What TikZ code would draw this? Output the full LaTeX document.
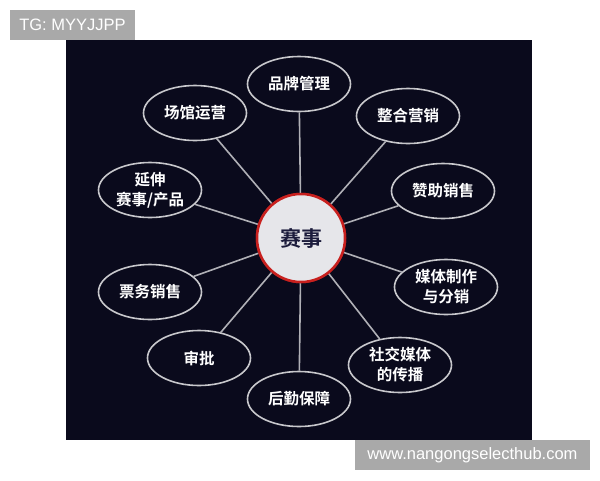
\documentclass[tikz,border=0pt]{standalone}
\usepackage{fontspec}
\setmainfont{Liberation Sans}
\newfontfamily\cjk{Noto Sans CJK SC}[BoldFont={Noto Sans CJK SC Bold}]
\usetikzlibrary{shapes.geometric}
\definecolor{bgdark}{HTML}{0A0A1C}
\definecolor{ringgray}{HTML}{C8C8CC}
\definecolor{linegray}{HTML}{B0B0B6}
\definecolor{tagbg}{HTML}{A9A9A9}
\definecolor{hubred}{HTML}{C8201E}
\definecolor{hubfill}{HTML}{E6E6EA}
\definecolor{hubtext}{HTML}{1C1C3C}
\tikzset{
  leaf/.style={ellipse, draw=ringgray, line width=1.6pt, fill=bgdark, text=white,
    minimum width=103pt, minimum height=55pt, inner sep=0pt, align=center,
    font=\cjk\bfseries\fontsize{15.5}{20}\selectfont},
  spoke/.style={draw=linegray, line width=1.6pt},
  hub/.style={circle, draw=hubred, line width=2.5pt, fill=hubfill, minimum size=88pt,
    inner sep=0pt, text=hubtext, font=\cjk\bfseries\fontsize{21}{24}\selectfont},
  tag/.style={fill=tagbg, text=white, inner sep=0pt, font=\fontsize{16.5}{18}\selectfont}
}
\begin{document}
\begin{tikzpicture}[x=1pt,y=-1pt]
\useasboundingbox (0,0) rectangle (600,480);
\fill[white] (0,0) rectangle (600,480);
\fill[bgdark] (66,40) rectangle (532,440);
\node[hub] (c) at (301,238) {};
\node[leaf] (e1) at (299,84) {品牌管理};
\node[leaf] (e2) at (408,116) {整合营销};
\node[leaf] (e3) at (443,191) {赞助销售};
\node[leaf] (e4) at (446,287) {媒体制作\\与分销};
\node[leaf] (e5) at (400,365) {社交媒体\\的传播};
\node[leaf] (e6) at (299,399) {后勤保障};
\node[leaf] (e7) at (199,358) {审批};
\node[leaf] (e8) at (150,292) {票务销售};
\node[leaf] (e9) at (150,190) {延伸\\赛事/产品};
\node[leaf] (e10) at (195,113) {场馆运营};
\foreach \n in {e1,e2,e3,e4,e5,e6,e7,e8,e9,e10} \draw[spoke] (c) -- (\n);
\node[hub] (c2) at (301,238) {赛事};
\node[tag, minimum width=125pt, minimum height=30pt] (t1) at (72.5,25) {TG: MYYJJPP};
\node[tag, minimum width=235pt, minimum height=30pt] (t2) at (472.5,455) {www.nangongselecthub.com};
\end{tikzpicture}
\end{document}
